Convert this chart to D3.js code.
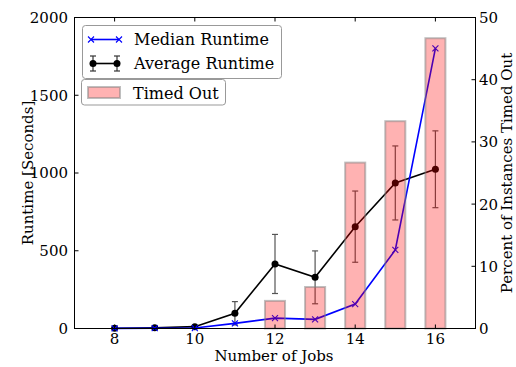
<!DOCTYPE html>
<html>
<head>
<meta charset="utf-8">
<script src="https://cdn.jsdelivr.net/npm/d3@7"></script>
<style>
  html, body { margin: 0; padding: 0; background: #fff; }
  svg { display: block; font-family: "DejaVu Serif", serif; }
</style>
</head>
<body>
<svg id="chart" width="516" height="367"></svg>
<script>
// Number of jobs per instance
const jobs = [8, 9, 10, 11, 12, 13, 14, 15, 16];
// Median runtime in seconds
const medianRuntime = [1, 2, 3, 33, 67, 59, 157, 505, 1802];
// Average runtime in seconds and its spread (error bar half-height)
const averageRuntime = [2, 5, 12, 98, 415, 329, 655, 936, 1024];
const averageError = [1, 2, 4, 75, 190, 170, 229, 238, 247];
// Percent of instances that hit the time limit
const timedOutPct = [0, 0, 0, 0, 4.44, 6.67, 26.67, 33.33, 46.67];

const xTicks = [8, 10, 12, 14, 16];
const leftTicks = [0, 500, 1000, 1500, 2000];
const rightTicks = [0, 10, 20, 30, 40, 50];

const svg = d3.select("#chart");
const L = 74.5, R = 475.5, T = 17.5, B = 328.5;

const x = d3.scaleLinear().domain([7, 17]).range([L, R]);
const yL = d3.scaleLinear().domain([0, 2000]).range([B, T]);
const yR = d3.scaleLinear().domain([0, 50]).range([B, T]);

const rows = jobs.map((j, i) => ({
  j, med: medianRuntime[i], avg: averageRuntime[i], err: averageError[i], pct: timedOutPct[i]
}));

const plot = svg.append("g");

// Average runtime error bars
const eb = plot.append("g").attr("stroke", "#555").attr("stroke-width", 1.2);
rows.forEach(d => {
  const cx = x(d.j);
  eb.append("line").attr("x1", cx).attr("x2", cx)
    .attr("y1", yL(d.avg - d.err)).attr("y2", yL(d.avg + d.err));
  [d.avg - d.err, d.avg + d.err].forEach(v => {
    eb.append("line").attr("x1", cx - 3).attr("x2", cx + 3)
      .attr("y1", yL(v)).attr("y2", yL(v));
  });
});

// Average runtime line + markers
plot.append("path").datum(rows)
  .attr("fill", "none").attr("stroke", "#000").attr("stroke-width", 1.6)
  .attr("d", d3.line().x(d => x(d.j)).y(d => yL(d.avg)));
plot.append("g").selectAll("circle").data(rows).join("circle")
  .attr("cx", d => x(d.j)).attr("cy", d => yL(d.avg)).attr("r", 3.5).attr("fill", "#000");

// Median runtime line + x markers
plot.append("path").datum(rows)
  .attr("fill", "none").attr("stroke", "#0000ff").attr("stroke-width", 1.6)
  .attr("d", d3.line().x(d => x(d.j)).y(d => yL(d.med)));
const xm = plot.append("g").attr("stroke", "#0000ff").attr("stroke-width", 1.1);
rows.forEach(d => {
  const cx = x(d.j), cy = yL(d.med), s = 3;
  xm.append("line").attr("x1", cx - s).attr("x2", cx + s).attr("y1", cy - s).attr("y2", cy + s);
  xm.append("line").attr("x1", cx - s).attr("x2", cx + s).attr("y1", cy + s).attr("y2", cy - s);
});

// Timed-out bars on the right axis, translucent over the lines
plot.append("g").selectAll("rect").data(rows.filter(d => d.pct > 0)).join("rect")
  .attr("x", d => x(d.j - 0.25)).attr("width", d => x(d.j + 0.25) - x(d.j - 0.25))
  .attr("y", d => yR(d.pct)).attr("height", d => yR(0) - yR(d.pct))
  .attr("fill", "rgba(255,0,0,0.3)").attr("stroke", "rgba(128,128,128,0.5)").attr("stroke-width", 2);

// Frame and ticks
const axes = svg.append("g").attr("stroke", "#000").attr("stroke-width", 1);
axes.append("rect").attr("x", L).attr("y", T).attr("width", R - L).attr("height", B - T).attr("fill", "none");
const tl = 4;
xTicks.forEach(t => {
  axes.append("line").attr("x1", x(t)).attr("x2", x(t)).attr("y1", B).attr("y2", B - tl);
  axes.append("line").attr("x1", x(t)).attr("x2", x(t)).attr("y1", T).attr("y2", T + tl);
});
leftTicks.forEach(t => {
  axes.append("line").attr("x1", L).attr("x2", L + tl).attr("y1", yL(t)).attr("y2", yL(t));
});
rightTicks.forEach(t => {
  axes.append("line").attr("x1", R).attr("x2", R - tl).attr("y1", yR(t)).attr("y2", yR(t));
});

const txt = svg.append("g").attr("font-size", 15).attr("fill", "#000");
xTicks.forEach(t => {
  txt.append("text").attr("x", x(t)).attr("y", 343.5).attr("text-anchor", "middle").text(t);
});
leftTicks.forEach(t => {
  txt.append("text").attr("x", L - 6.5).attr("y", yL(t)).attr("dy", "0.36em")
    .attr("text-anchor", "end").text(t);
});
rightTicks.forEach(t => {
  txt.append("text").attr("x", R + 3.5).attr("y", yR(t)).attr("dy", "0.36em")
    .attr("text-anchor", "start").text(t);
});

// Axis titles
const lab = svg.append("g").attr("font-size", 15).attr("fill", "#000");
lab.append("text").attr("x", 274).attr("y", 361)
  .attr("text-anchor", "middle").text("Number of Jobs");
lab.append("text").attr("transform", `translate(32.5,${(T + B) / 2}) rotate(-90)`)
  .attr("text-anchor", "middle").text("Runtime [Seconds]");
lab.append("text").attr("transform", `translate(512,${(T + B) / 2}) rotate(-90)`)
  .attr("text-anchor", "middle").text("Percent of Instances Timed Out");

// Legend for runtime lines
const lg = svg.append("g");
lg.append("rect").attr("x", 82.5).attr("y", 25.5).attr("width", 199).attr("height", 53).attr("rx", 3)
  .attr("fill", "#fff").attr("stroke", "#999").attr("stroke-width", 1);
lg.append("line").attr("x1", 91).attr("x2", 119).attr("y1", 39.5).attr("y2", 39.5)
  .attr("stroke", "#0000ff").attr("stroke-width", 1.6);
[91, 119].forEach(cx => {
  lg.append("path").attr("d", `M${cx - 3},36.5L${cx + 3},42.5M${cx - 3},42.5L${cx + 3},36.5`)
    .attr("stroke", "#0000ff").attr("stroke-width", 1.1);
});
lg.append("line").attr("x1", 93).attr("x2", 117).attr("y1", 63.5).attr("y2", 63.5)
  .attr("stroke", "#000").attr("stroke-width", 1.6);
[93, 117].forEach(cx => {
  lg.append("line").attr("x1", cx).attr("x2", cx).attr("y1", 56).attr("y2", 71).attr("stroke", "#333").attr("stroke-width", 1.2);
  lg.append("line").attr("x1", cx - 3).attr("x2", cx + 3).attr("y1", 56).attr("y2", 56).attr("stroke", "#333").attr("stroke-width", 1.2);
  lg.append("line").attr("x1", cx - 3).attr("x2", cx + 3).attr("y1", 71).attr("y2", 71).attr("stroke", "#333").attr("stroke-width", 1.2);
  lg.append("circle").attr("cx", cx).attr("cy", 63.5).attr("r", 3.5).attr("fill", "#000");
});
lg.append("text").attr("x", 134).attr("y", 45).attr("font-size", 16).text("Median Runtime");
lg.append("text").attr("x", 134).attr("y", 69).attr("font-size", 16).text("Average Runtime");

// Legend for timed-out bars
const lg2 = svg.append("g");
lg2.append("rect").attr("x", 81.5).attr("y", 79.5).attr("width", 144).attr("height", 25.5).attr("rx", 3)
  .attr("fill", "#fff").attr("stroke", "#999").attr("stroke-width", 1);
lg2.append("rect").attr("x", 88).attr("y", 87).attr("width", 32).attr("height", 11)
  .attr("fill", "rgba(255,0,0,0.3)").attr("stroke", "rgba(128,128,128,0.5)").attr("stroke-width", 2);
lg2.append("text").attr("x", 133).attr("y", 98.5).attr("font-size", 16).text("Timed Out");
</script>
</body>
</html>
